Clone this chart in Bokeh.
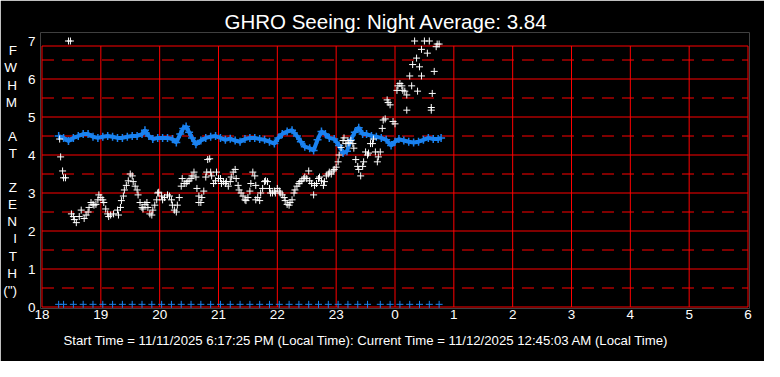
from bokeh.plotting import figure
from bokeh.models import Range1d, FixedTicker, Title
from bokeh.embed import file_html
from bokeh.resources import INLINE

# ---------------- data ----------------
hour_ticks = [18, 19, 20, 21, 22, 23, 24, 25, 26, 27, 28, 29, 30]
hour_labels = ["18", "19", "20", "21", "22", "23", "0", "1", "2", "3", "4", "5", "6"]
value_ticks = [0, 1, 2, 3, 4, 5, 6, 7]
half_values = [0.5, 1.5, 2.5, 3.5, 4.5, 5.5, 6.5]
night_average = 3.84
start_time = "11/11/2025 6:17:25 PM"
current_time = "11/12/2025 12:45:03 AM"
y_title_chars = ["F", "W", "H", "M", " ", "A", "T", " ", "Z", "E", "N", "I", "T", "H", "(\")"]

# blue series (minutes after 18:00, FWHM)
blue_min = [17, 22, 27, 32, 37, 42, 47, 52, 57, 62, 67, 72, 77, 82, 87, 92, 97, 102, 105, 109,
            113, 118, 123, 128, 133, 137, 141, 144, 147, 150, 153, 157, 162, 167, 172, 177, 182,
            187, 192, 197, 202, 207, 212, 217, 222, 227, 232, 237, 241, 245, 250, 255, 260, 264,
            268, 273, 277, 281, 285, 289, 293, 298, 303, 307, 311, 315, 319, 323, 327, 331, 336,
            341, 346, 351, 356, 360, 364, 369, 374, 379, 384, 389, 394, 399, 404, 407]
blue_val = [4.50, 4.45, 4.37, 4.45, 4.50, 4.55, 4.55, 4.48, 4.45, 4.48, 4.50, 4.48, 4.45, 4.45,
            4.48, 4.50, 4.50, 4.55, 4.65, 4.50, 4.42, 4.45, 4.45, 4.45, 4.42, 4.33, 4.55, 4.70,
            4.75, 4.60, 4.45, 4.28, 4.38, 4.45, 4.48, 4.50, 4.45, 4.40, 4.43, 4.38, 4.35, 4.42,
            4.45, 4.45, 4.42, 4.40, 4.35, 4.30, 4.45, 4.55, 4.62, 4.65, 4.50, 4.35, 4.22, 4.18,
            4.12, 4.40, 4.62, 4.55, 4.45, 4.42, 4.25, 4.05, 4.10, 4.40, 4.60, 4.72, 4.55, 4.55,
            4.50, 4.48, 4.45, 4.40, 4.25, 4.35, 4.42, 4.38, 4.35, 4.33, 4.35, 4.40, 4.45, 4.42,
            4.42, 4.45]

# blue markers at the bottom
zero_min = [17, 22, 32, 42, 52, 62, 72, 82, 92, 102, 112, 122, 132, 142, 152, 162, 172, 182,
            192, 202, 212, 222, 232, 242, 252, 262, 272, 282, 292, 302, 312, 322, 332, 345, 355,
            365, 375, 385, 395, 405]
zero_val = [0.07, 0.07, 0.07, 0.07, 0.07, 0.07, 0.07, 0.07, 0.07, 0.07, 0.07, 0.07, 0.07, 0.07,
            0.07, 0.07, 0.07, 0.07, 0.07, 0.07, 0.07, 0.07, 0.07, 0.07, 0.07, 0.07, 0.07, 0.07,
            0.07, 0.07, 0.07, 0.07, 0.07, 0.07, 0.07, 0.07, 0.07, 0.07, 0.07, 0.07]

# white series (minutes after 18:00, FWHM at zenith)
white_min = [18, 19, 21, 22, 24, 27, 29, 30, 32, 33, 35, 38, 40, 43, 45, 47, 48, 50, 52, 53,
             55, 57, 58, 60, 62, 63, 65, 67, 68, 70, 73, 77, 78, 80, 81, 83, 84, 86, 88, 90,
             92, 93, 95, 97, 98, 100, 102, 103, 105, 107, 108, 110, 112, 113, 115, 117, 118, 119,
             122, 123, 125, 128, 130, 132, 133, 135, 137, 138, 140, 142, 143, 145, 147, 148, 150,
             152, 153, 155, 157, 158, 160, 160, 162, 163, 165, 167, 168, 169, 171, 172, 173, 175,
             177, 178, 180, 182, 183, 185, 187, 188, 190, 192, 193, 195, 197, 198, 200, 201, 203,
             205, 207, 208, 210, 212, 213, 215, 217, 218, 218, 220, 222, 223, 225, 227, 228, 230,
             232, 233, 235, 237, 238, 240, 242, 243, 245, 247, 248, 250, 252, 253, 255, 257, 258,
             260, 262, 263, 265, 267, 268, 270, 272, 273, 275, 277, 278, 280, 282, 283, 285, 287,
             288, 290, 292, 293, 295, 297, 298, 300, 302, 303, 305, 307, 308, 310, 312, 313, 315,
             317, 318, 320, 322, 323, 325, 327, 328, 330, 332, 333, 335, 337, 338, 340, 342, 343,
             345, 347, 348, 350, 352, 353, 355, 358, 360, 362, 363, 365, 367, 368, 370, 372, 372,
             375, 377, 378, 380, 382, 383, 385, 387, 387, 390, 393, 395, 397, 397, 398, 400, 402,
             403, 405]
white_val = [4.42, 3.95, 3.58, 3.40, 3.40, 7.00, 7.00, 2.45, 2.38, 2.30, 2.22, 2.38, 2.55, 2.33,
             2.42, 2.50, 2.62, 2.75, 2.70, 2.68, 2.70, 2.82, 2.95, 2.88, 2.82, 2.75, 2.58, 2.45,
             2.38, 2.42, 2.45, 2.55, 2.42, 2.62, 2.80, 2.92, 3.08, 3.20, 3.32, 3.50, 3.45, 3.30,
             3.18, 3.08, 2.95, 2.75, 2.62, 2.58, 2.70, 2.75, 2.62, 2.45, 2.42, 2.55, 2.68, 2.82,
             3.00, 3.02, 2.92, 2.82, 2.88, 2.95, 2.92, 2.82, 2.68, 2.55, 2.50, 2.68, 2.88, 3.18,
             3.38, 3.25, 3.25, 3.30, 3.32, 3.38, 3.45, 3.55, 3.42, 3.12, 2.92, 2.75, 2.75, 2.88,
             3.05, 3.42, 3.55, 3.88, 3.90, 3.55, 3.45, 3.25, 3.32, 3.55, 3.38, 3.38, 3.25, 3.30,
             3.25, 3.30, 3.18, 3.30, 3.42, 3.55, 3.62, 3.38, 3.20, 3.08, 3.00, 2.92, 2.82, 2.80,
             2.88, 3.05, 3.25, 3.55, 3.45, 3.20, 2.82, 2.88, 2.80, 3.00, 3.12, 3.30, 3.32, 3.30,
             3.12, 3.00, 3.00, 3.05, 3.00, 3.12, 3.05, 3.00, 2.95, 2.88, 2.80, 2.70, 2.68, 2.75,
             2.82, 3.00, 3.08, 3.18, 3.25, 3.30, 3.32, 3.38, 3.42, 3.38, 3.58, 3.32, 3.25, 2.95,
             3.20, 3.25, 3.38, 3.42, 3.32, 3.20, 3.30, 3.45, 3.50, 3.55, 3.50, 3.58, 3.62, 3.68,
             3.82, 4.00, 4.20, 4.38, 4.45, 4.30, 4.38, 4.32, 4.38, 4.30, 4.18, 3.88, 3.70, 3.62,
             3.45, 3.70, 3.82, 4.08, 4.00, 4.05, 4.30, 4.30, 4.42, 4.08, 3.82, 3.95, 4.08, 4.70,
             4.92, 4.95, 5.45, 5.38, 5.32, 4.88, 4.82, 5.70, 5.82, 5.88, 5.82, 5.70, 5.68, 5.58,
             5.18, 6.08, 5.82, 6.38, 7.00, 6.55, 5.68, 6.32, 6.08, 6.78, 7.00, 6.68, 7.00, 5.25,
             5.18, 5.62, 6.20, 6.85, 6.92, 6.92]

# ---------------- figure ----------------
FONT = "Liberation Sans"
GRID = "#FF0000"
BLUE = "#1A82F0"
PX_H = 59.0       # pixels per hour
PX_V = 38.0       # pixels per FWHM unit
frame_top = 261 / PX_V   # top border line of the plotting box

p = figure(width=764, height=361,
           x_range=Range1d(18 - 1.5 / PX_H, 30 + 1.5 / PX_H),
           y_range=Range1d(0 - 1.5 / PX_V, 274.5 / PX_V),
           min_border_left=38, min_border_right=15, min_border_top=32, min_border_bottom=53,
           output_backend="svg", toolbar_location=None,
           background_fill_color="black", border_fill_color="black",
           outline_line_color=None)
p.xgrid.visible = False
p.ygrid.visible = False

# title
p.title.text = f"GHRO Seeing: Night Average: {night_average:.2f}"
p.title.align = "left"
p.title.offset = 184
p.title.standoff = 0
p.title.text_color = "white"
p.title.text_font = FONT
p.title.text_font_size = "20.5px"
p.title.text_font_style = "normal"

# grid drawn through the data scales
p.segment(x0=hour_ticks, y0=[0] * len(hour_ticks), x1=hour_ticks, y1=[frame_top] * len(hour_ticks),
          line_color=GRID, line_width=1)
solid_y = value_ticks[:-1] + [frame_top]
p.segment(x0=[18] * len(solid_y), y0=solid_y, x1=[30] * len(solid_y), y1=solid_y,
          line_color=GRID, line_width=1)
p.segment(x0=[18] * len(half_values), y0=half_values, x1=[30] * len(half_values), y1=half_values,
          line_color=GRID, line_width=1, line_dash="12 8")

# series
bx = [18 + m / 60 for m in blue_min]
p.line(bx, blue_val, line_color=BLUE, line_width=4)
p.scatter(bx, blue_val, marker="cross", size=8, line_color=BLUE, line_width=1.5)

wx = [18 + m / 60 for m in white_min]
p.scatter(wx, white_val, marker="cross", size=7, line_color="white", line_width=1)

zx = [18 + m / 60 for m in zero_min]
p.scatter(zx, zero_val, marker="cross", size=7, line_color=BLUE, line_width=1)

# axes
p.xaxis.ticker = FixedTicker(ticks=hour_ticks)
p.xaxis.major_label_overrides = {t: l for t, l in zip(hour_ticks, hour_labels)}
p.yaxis.ticker = FixedTicker(ticks=value_ticks)
for ax in (p.xaxis, p.yaxis):
    ax.axis_line_color = None
    ax.major_tick_line_color = None
    ax.minor_tick_line_color = None
    ax.major_tick_out = 0
    ax.major_tick_in = 0
    ax.minor_tick_out = 0
    ax.minor_tick_in = 0
    ax.major_label_text_color = "white"
    ax.major_label_text_font = FONT
    ax.major_label_text_font_size = "13.5px"
p.xaxis.major_label_standoff = 1
p.yaxis.major_label_standoff = 5

# vertical stacked y title
p.yaxis.axis_label = "\n".join(y_title_chars)
p.yaxis.axis_label_orientation = "horizontal"
p.yaxis.axis_label_text_color = "white"
p.yaxis.axis_label_text_font = FONT
p.yaxis.axis_label_text_font_size = "13.5px"
p.yaxis.axis_label_text_font_style = "normal"
p.yaxis.axis_label_text_line_height = 1.14
p.yaxis.axis_label_standoff = 8

# footer
p.add_layout(Title(text=f"Start Time = {start_time} (Local Time):  Current Time = {current_time} (Local Time)",
                   align="left", offset=23, standoff=18, text_color="white", text_font=FONT,
                   text_font_size="13.2px", text_font_style="normal"), "below")

open("out.html", "w").write(file_html(p, INLINE))
